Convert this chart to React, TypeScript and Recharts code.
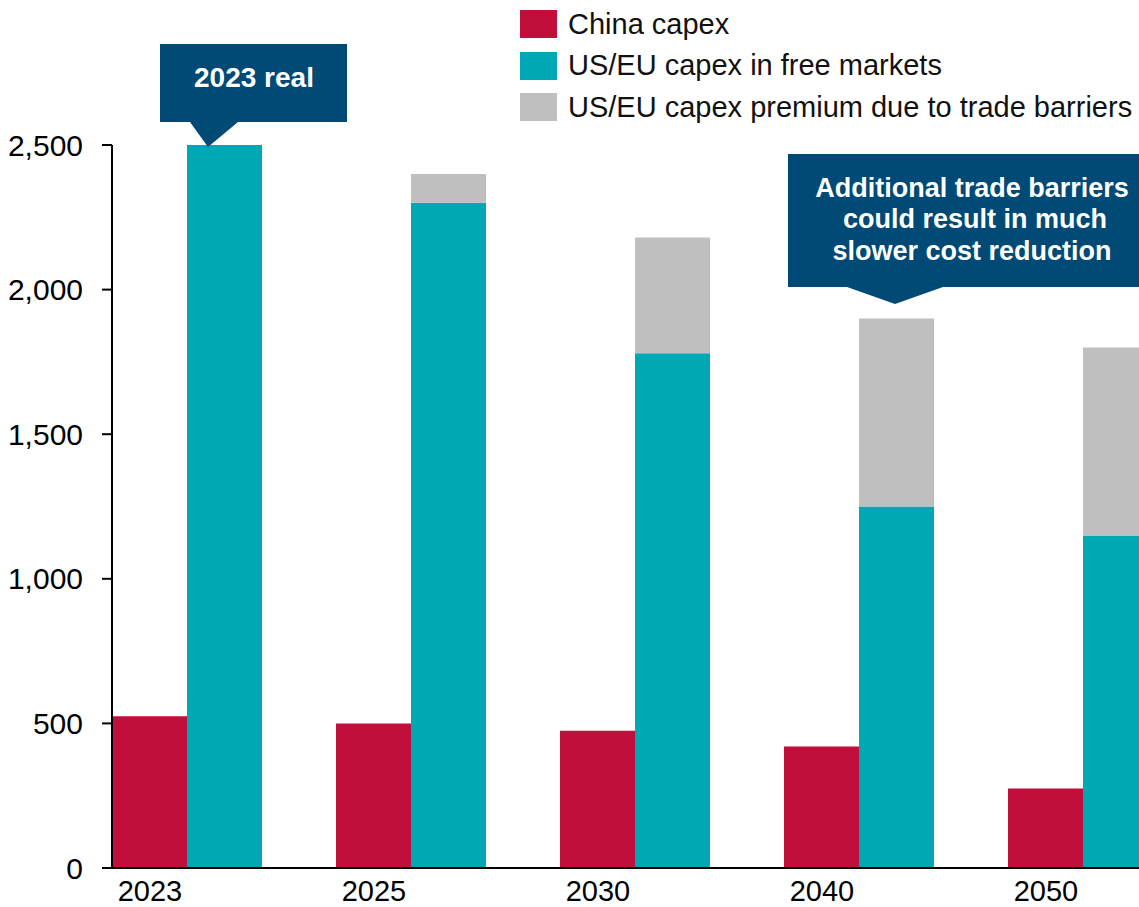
import { Bar, BarChart, XAxis, YAxis } from "recharts";

const years = ["2023", "2025", "2030", "2040", "2050"];
const chinaCapex = [525, 500, 475, 420, 275];
const usEuFree = [2500, 2300, 1780, 1250, 1150];
const usEuPremium = [0, 100, 400, 650, 650];
const yTicks = [0, 500, 1000, 1500, 2000, 2500];

const legendItems = [
    { label: "China capex", color: "#C20E3B" },
    { label: "US/EU capex in free markets", color: "#00A8B5" },
    { label: "US/EU capex premium due to trade barriers", color: "#BFBFBF" },
];

const data = years.map((year, i) => ({
    year,
    china: chinaCapex[i],
    free: usEuFree[i],
    premium: usEuPremium[i],
}));

const FONT = "'Liberation Sans', Arial, sans-serif";
const NAVY = "#004A75";

export default function App() {
    return (
        <div
            style={{
                position: "absolute",
                left: 0,
                top: 0,
                width: 1139,
                height: 907,
                overflow: "hidden",
                background: "#fff",
                fontFamily: FONT,
            }}
        >
            <BarChart
                width={1232}
                height={907}
                data={data}
                margin={{ top: 145, right: 0, bottom: 0, left: 0 }}
                barGap={0}
                barSize={75}
            >
                <XAxis
                    dataKey="year"
                    height={39}
                    padding={{ left: -37, right: 37 }}
                    axisLine={{ stroke: "#000", strokeWidth: 2 }}
                    tickLine={false}
                    tickSize={0}
                    tickMargin={12}
                    tick={{ fill: "#000", fontSize: 29, fontFamily: FONT, dx: -37 }}
                />
                <YAxis
                    width={112}
                    domain={[0, 2500]}
                    ticks={yTicks}
                    interval={0}
                    tickFormatter={(v: number) => v.toLocaleString("en-US")}
                    axisLine={{ stroke: "#000", strokeWidth: 2 }}
                    tickLine={{ stroke: "#000", strokeWidth: 2 }}
                    tickSize={10}
                    tickMargin={19}
                    tick={{ fill: "#000", fontSize: 30, fontFamily: FONT }}
                />
                <Bar dataKey="china" stackId="cn" fill="#C20E3B" isAnimationActive={false} />
                <Bar dataKey="free" stackId="us" fill="#00A8B5" isAnimationActive={false} />
                <Bar dataKey="premium" stackId="us" fill="#BFBFBF" isAnimationActive={false} />
            </BarChart>

            {/* legend */}
            {legendItems.map((item, i) => (
                <div
                    key={item.label}
                    style={{
                        position: "absolute",
                        left: 520,
                        top: 10 + i * 41.5,
                        display: "flex",
                        alignItems: "center",
                        height: 28,
                    }}
                >
                    <div style={{ width: 37, height: 28, background: item.color }} />
                    <span style={{ marginLeft: 11, fontSize: 29, color: "#111", whiteSpace: "nowrap" }}>
                        {item.label}
                    </span>
                </div>
            ))}

            {/* callouts */}
            <svg
                width={1139}
                height={907}
                style={{ position: "absolute", left: 0, top: 0, pointerEvents: "none" }}
            >
                <path d="M160,44 H347 V122 H238 L208,147 L190,122 H160 Z" fill={NAVY} />
                <text x={254} y={87} textAnchor="middle" fill="#fff" fontSize={28} fontWeight="bold" fontFamily={FONT}>
                    2023 real
                </text>
                <path d="M788,154 H1139 V287 H943 L895,304 L847,287 H788 Z" fill={NAVY} />
                <text textAnchor="middle" fill="#fff" fontSize={27} fontWeight="bold" fontFamily={FONT}>
                    <tspan x={972} y={197}>Additional trade barriers</tspan>
                    <tspan x={975} y={228}>could result in much</tspan>
                    <tspan x={972} y={260}>slower cost reduction</tspan>
                </text>
            </svg>
        </div>
    );
}
